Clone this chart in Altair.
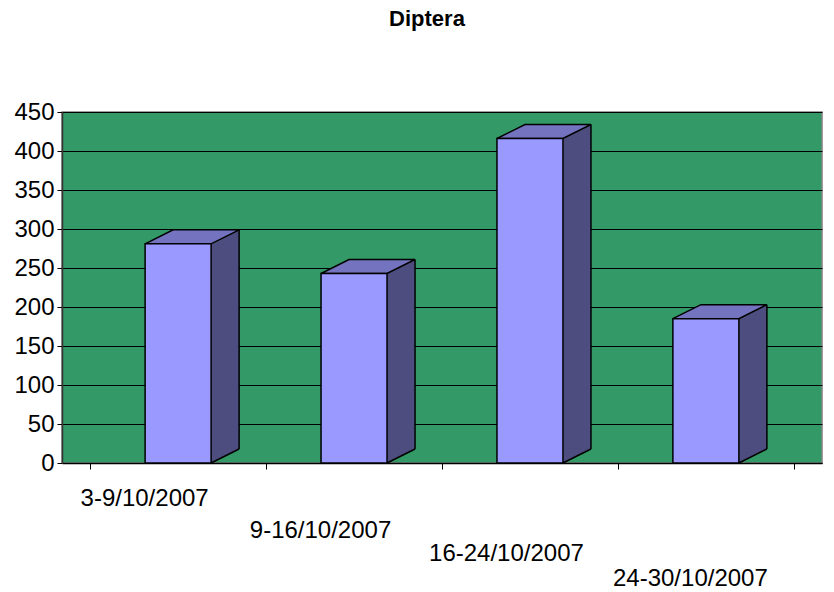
import altair as alt
import pandas as pd

# ---------------- data ----------------
chart_title = "Diptera"
categories = ["3-9/10/2007", "9-16/10/2007", "16-24/10/2007", "24-30/10/2007"]
counts = [281, 243, 416, 185]
y_tick_values = [0, 50, 100, 150, 200, 250, 300, 350, 400, 450]

df = pd.DataFrame({"period": categories, "count": counts})

# ---------------- style ----------------
FRONT = "#9999FF"
SIDE = "#4D4D80"
TOP = "#7373BF"
WALL = "#339966"
FONT = "Liberation Sans"

W, H = 760, 351
BAR_W = 66          # front face width in px
DX, DY = 28, 14     # depth of the pseudo-3D extrusion in px
HALF = BAR_W / 2
S = 50.0            # custom symbol path unit (px)
SYM = (2 * S) ** 2  # symbol size so that one path unit == S px


def pt(x, y):
    return f"{x / S:.4f},{y / S:.4f}"


top_face_path = f"M{pt(-HALF, 0)}L{pt(HALF, 0)}L{pt(HALF + DX, -DY)}L{pt(-HALF + DX, -DY)}Z"
side_top_tri = f"M{pt(HALF, 0.6)}L{pt(HALF + DX, -DY)}L{pt(HALF + DX, 0.6)}Z"
side_bot_tri = f"M{pt(HALF, -DY - 0.6)}L{pt(HALF + DX, -DY - 0.6)}L{pt(HALF, 0)}Z"
bottom_edge = f"M{pt(HALF, 0)}L{pt(HALF + DX, -DY)}"

# staggered category labels (imitating the perspective of the original)
label_pad = {categories[0]: 17, categories[1]: 49, categories[2]: 72, categories[3]: 97}
label_off = {categories[0]: -34, categories[1]: -34, categories[2]: -24, categories[3]: -16}


def cond(mapping, default):
    return {
        "condition": [{"test": f"datum.value === '{k}'", "value": v} for k, v in mapping.items()],
        "value": default,
    }


x_axis = alt.Axis(
    title=None,
    labelFont=FONT,
    labelFontSize=24,
    labelColor="black",
    labelAngle=0,
    labelBaseline="top",
    labelPadding=cond(label_pad, 17),
    labelOffset=cond(label_off, 0),
    labelOverlap=False,
    domainColor="black",
    domainWidth=1.5,
    tickColor="black",
    tickSize=6,
    tickBand="extent",
    grid=False,
)
y_axis = alt.Axis(
    title=None,
    values=y_tick_values,
    labelFont=FONT,
    labelFontSize=24,
    labelColor="black",
    labelPadding=3,
    labelOverlap=False,
    domainColor="#333333",
    domainWidth=1.5,
    tickColor="black",
    tickSize=5,
    grid=True,
    gridColor="black",
    gridWidth=1,
)
y_scale = alt.Scale(domain=[0, 450], nice=False)

x_enc = alt.X("period:N", sort=categories,
              scale=alt.Scale(type="band", paddingInner=0, paddingOuter=0.16),
              axis=x_axis)
y_enc = alt.Y("count:Q", scale=y_scale, axis=y_axis)
y_zero = alt.Y(datum=0, type="quantitative", scale=y_scale, axis=y_axis)

base = alt.Chart(df)

side_rect = base.mark_bar(
    size=DX, xOffset=HALF + DX / 2, y2Offset=-DY, fill=SIDE, strokeWidth=0
).encode(x=x_enc, y=y_enc, y2=alt.datum(0))

side_top = base.mark_point(
    shape=side_top_tri, size=SYM, filled=True, fill=SIDE, strokeWidth=0, opacity=1
).encode(x=x_enc, y=y_enc)

side_bot = base.mark_point(
    shape=side_bot_tri, size=SYM, filled=True, fill=SIDE, strokeWidth=0, opacity=1
).encode(x=x_enc, y=y_zero)

back_edge = base.mark_rule(
    xOffset=HALF + DX, yOffset=-DY, y2Offset=-DY, color="black", strokeWidth=1.5
).encode(x=x_enc, y=y_enc, y2=alt.datum(0))

bottom_diag = base.mark_point(
    shape=bottom_edge, size=SYM, filled=False, stroke="black", strokeWidth=1.5, opacity=1
).encode(x=x_enc, y=y_zero)

top_face = base.mark_point(
    shape=top_face_path, size=SYM, filled=True, fill=TOP, stroke="black",
    strokeWidth=1.5, opacity=1, strokeJoin="miter"
).encode(x=x_enc, y=y_enc)

front = base.mark_bar(
    size=BAR_W, fill=FRONT, stroke="black", strokeWidth=1.5
).encode(x=x_enc, y=y_enc, y2=alt.datum(0))

chart = alt.layer(
    side_rect, side_top, side_bot, back_edge, bottom_diag, top_face, front
).properties(
    width=W,
    height=H,
    padding={"left": 62, "top": 112, "right": 12, "bottom": 129},
    autosize=alt.AutoSizeParams(type="none"),
    background="white",
    title=alt.TitleParams(
        chart_title, font=FONT, fontSize=22, fontWeight="bold", color="black",
        anchor="middle", frame="group", offset=52, baseline="alphabetic", dx=-15,
    ),
).configure_view(
    fill=WALL, stroke="#808080", strokeWidth=1.5
)

chart.save("out.html", embed_options={"renderer": "svg", "actions": False})
